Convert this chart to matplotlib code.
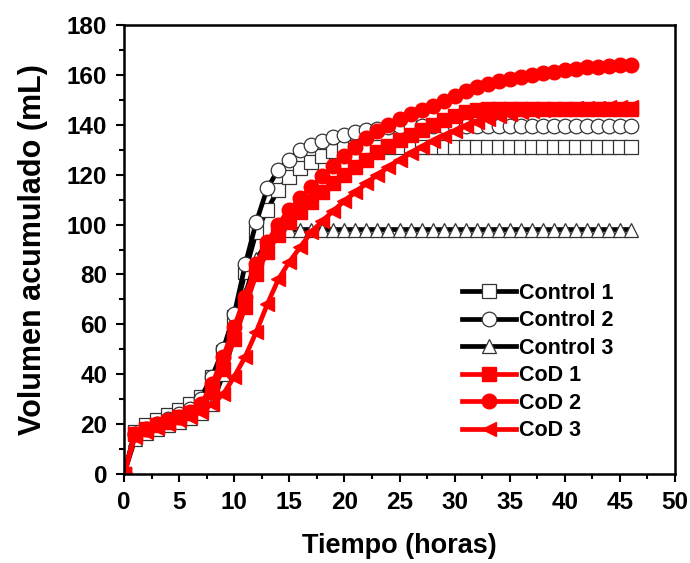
import matplotlib
matplotlib.use("Agg")
import matplotlib.pyplot as plt
from matplotlib.ticker import MultipleLocator

plt.rcParams['font.family'] = ['Liberation Sans', 'DejaVu Sans']
plt.rcParams['font.weight'] = 'bold'

hours = list(range(0, 47))

control1 = [0, 17, 19.5, 21.5, 23.5, 25.5, 28, 31, 39, 49, 63, 81, 97, 106, 114, 119,
            122.5, 125, 127.5, 129.5, 130.5, 131] + [131] * 25
control2 = [0, 16, 18, 20, 22, 24, 26, 30, 39, 50, 64, 84, 101, 114.5, 122, 126,
            130, 132, 133.5, 135, 136, 137, 138, 138.5, 139] + [139.5] * 22
control3 = [0, 14, 16.5, 18, 19.5, 21, 22.5, 24.5, 28, 40, 55, 72, 86, 93, 96.5, 98] + [98] * 31
cod1 = [0, 16, 18, 19.5, 21, 23, 24.5, 27, 33, 42, 54, 67, 80, 89, 96, 101,
        105, 109, 113, 116.5, 120, 123, 126, 129, 131.5, 134, 136, 138, 140, 142,
        143.5, 145, 146, 146.5] + [146.5] * 13
cod2 = [0, 16, 18, 20, 21.5, 23, 25, 28, 36, 47, 59, 71, 84, 93, 100, 106,
        110.5, 115, 119.5, 123.5, 127.5, 131, 134.5, 137.5, 140, 142.5, 144.5, 146, 147.5, 149.5,
        151.5, 153.5, 155, 156.3, 157.5, 158.5, 159.3, 160, 160.7, 161.3, 162, 162.5, 163, 163.3,
        163.6, 163.8, 164]
cod3 = [0, 15, 17, 18.5, 20, 21.5, 23, 25, 28, 32, 39, 47, 57, 68, 78, 85,
        91, 97, 101.5, 105.5, 109.5, 113, 116.5, 120, 123, 126, 128.5, 131, 133.5, 135.5,
        137.5, 139.5, 141, 142.5, 143.5, 144.5, 145, 145.5, 146, 146.3, 146.5, 146.7, 146.8,
        146.9, 147, 147, 147]

fig = plt.figure(figsize=(6.9, 5.63), dpi=100)
ax = fig.add_axes([124/690, 1-474/563, (675-124)/690, (474-25)/563])

lw = 3.4
ms = 9.5
edge = '#333333'
ax.plot(hours, control1, color='black', lw=lw, marker='s', ms=ms, mfc='white', mec=edge, mew=0.9, label='Control 1')
ax.plot(hours, control2, color='black', lw=lw, marker='o', ms=ms+1, mfc='white', mec=edge, mew=0.9, label='Control 2')
ax.plot(hours, control3, color='black', lw=lw, marker='^', ms=ms+0.5, mfc='white', mec=edge, mew=0.9, label='Control 3')
ax.plot(hours, cod1, color='red', lw=lw, marker='s', ms=ms, mfc='red', mec='red', label='CoD 1')
ax.plot(hours, cod2, color='red', lw=lw, marker='o', ms=ms+1, mfc='red', mec='red', label='CoD 2')
ax.plot(hours, cod3, color='red', lw=lw, marker='<', ms=ms+0.5, mfc='red', mec='red', label='CoD 3')

ax.set_xlim(0, 50)
ax.set_ylim(0, 180)
ax.xaxis.set_major_locator(MultipleLocator(5))
ax.xaxis.set_minor_locator(MultipleLocator(2.5))
ax.yaxis.set_major_locator(MultipleLocator(20))
ax.yaxis.set_minor_locator(MultipleLocator(10))
ax.tick_params(which='major', direction='out', length=6, width=1.5, labelsize=17.5, pad=6)
ax.tick_params(which='minor', direction='out', length=3.5, width=1.5)
for lab in ax.get_xticklabels() + ax.get_yticklabels():
    lab.set_fontweight('bold')
for sp in ax.spines.values():
    sp.set_linewidth(1.8)

ax.set_xlabel('Tiempo (horas)', fontsize=19.5, fontweight='bold', labelpad=14)
ax.set_ylabel('Volumen acumulado (mL)', fontsize=22, fontweight='bold', labelpad=14)

leg = ax.legend(loc='upper left', bbox_to_anchor=(462/690, 1-283/563), bbox_transform=fig.transFigure,
                frameon=False, fontsize=15.5, handlelength=2.5, handletextpad=0.15,
                labelspacing=0.3, borderpad=0, borderaxespad=0)
for t in leg.get_texts():
    t.set_fontweight('bold')

fig.savefig('out.png', dpi=100)
